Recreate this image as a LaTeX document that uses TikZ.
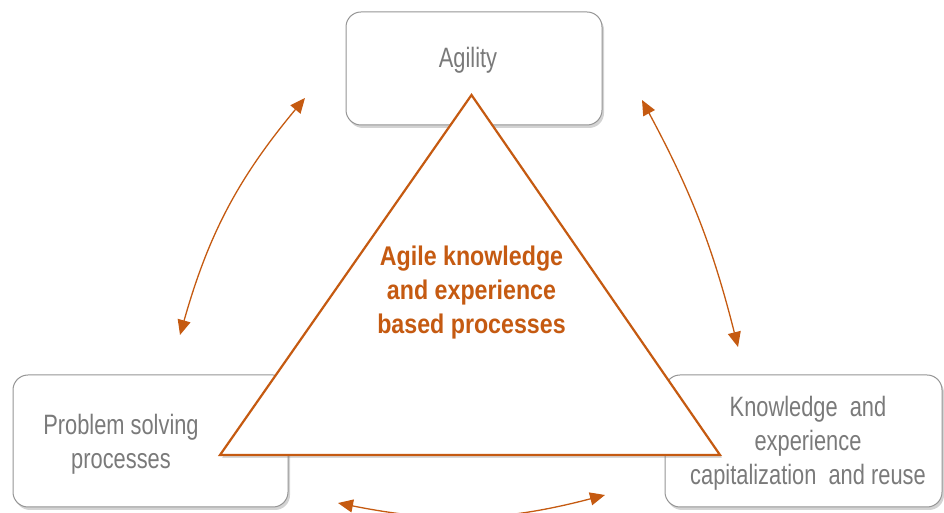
\documentclass[tikz,border=0pt]{standalone}
\usepackage{fontspec}
\setmainfont{Liberation Sans}
\newfontfamily\boxfont[FakeStretch=0.78]{Liberation Sans}
\newfontfamily\corefont[FakeStretch=0.86]{Liberation Sans}
\usepackage{xcolor}
\usepackage{tikz}
\usetikzlibrary{shadows, positioning}
\usetikzlibrary{arrows.meta}
\tikzset{>={Triangle[length=15pt,width=13pt]}}
\definecolor{rust}{HTML}{C55A11}
\definecolor{labelgrey}{HTML}{7A7A7A}
\definecolor{edgegrey}{HTML}{959595}

\begin{document}
\begin{tikzpicture}[x=1pt, y=1pt, box/.style={draw=edgegrey, fill=white, line width=1pt, rounded corners=15pt, drop shadow={shadow xshift=2pt, shadow yshift=-3pt, opacity=0.35}}, boxtext/.style={text=labelgrey, align=center, font=\boxfont\fontsize{28}{34}\selectfont}, coretext/.style={text=rust, align=center, font=\corefont\bfseries\fontsize{27}{34}\selectfont}, link/.style={<->, draw=rust, line width=1.3pt}]

    \clip (0,0) rectangle (944,513);

    %Nodes
    \node[box, minimum width=256pt, minimum height=113pt](agility) at (474,444.5){};
    \node[box, minimum width=275pt, minimum height=132pt](solving) at (150.5,72){};
    \node[box, minimum width=277pt, minimum height=132pt](reuse) at (803.5,72){};

    %Triangle
    \coordinate (apex) at (471.5,418);
    \coordinate (baseL) at (220,58);
    \coordinate (baseR) at (720,58);
    \filldraw[draw=rust, fill=white, line width=2.2pt, drop shadow={shadow xshift=2pt, shadow yshift=-3pt, opacity=0.3}] (apex) -- (baseL) -- (baseR) -- cycle;

    %Labels
    \node[boxtext, anchor=base](agilitytext) at (468,445){Agility};
    \node[boxtext](solvingtext) at (121,68.5){Problem solving\\processes};
    \node[boxtext](reusetext) at (808,70){Knowledge~ and\\experience\\capitalization~ and reuse};
    \node[coretext](core) at (471.5,220){Agile knowledge\\and experience\\based processes};

    %Arrow ends
    \coordinate (leftup) at (305,415);
    \coordinate (leftdown) at (180,178);
    \coordinate (rightup) at (642,413);
    \coordinate (rightdown) at (738,166);
    \coordinate (bottomleft) at (338,10);
    \coordinate (bottomright) at (605,18);

    %Lines
    \draw[link] (leftup) to[bend right=12] (leftdown);
    \draw[link] (rightup) to[bend left=7] (rightdown);
    \draw[link] (bottomleft) to[bend right=13] (bottomright);

\end{tikzpicture}
\end{document}
